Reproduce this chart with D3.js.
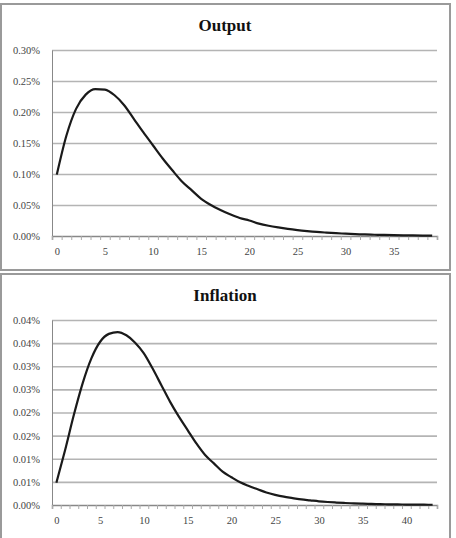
<!DOCTYPE html>
<html><head><meta charset="utf-8">
<script src="https://cdn.jsdelivr.net/npm/d3@7"></script>
<style>
html,body{margin:0;padding:0;background:#fff;}
svg{display:block;}
</style></head>
<body>
<svg id="chart" width="456" height="538"></svg>
<script>
// ---- Data (values in percent) ----
const outputTitle = "Output";
const outputValues = [0.099,0.162,0.205,0.228,0.237,0.236,0.227,0.211,0.189,0.167,
  0.146,0.125,0.106,0.088,0.074,0.060,0.050,0.042,0.035,0.029,
  0.025,0.020,0.0165,0.0138,0.0115,0.0096,0.008,0.0066,0.0055,0.0045,
  0.0037,0.003,0.0025,0.002,0.0017,0.0014,0.0011,0.0009,0.0007,0.0006];
const outputYTicks = [0,0.05,0.10,0.15,0.20,0.25,0.30];
const outputYLabels = ["0.00%","0.05%","0.10%","0.15%","0.20%","0.25%","0.30%"];

const inflationTitle = "Inflation";
const inflationValues = [0.0048,0.0119,0.0195,0.0263,0.0317,0.0353,0.0370,0.0374,0.0367,0.0351,
  0.0328,0.0295,0.0259,0.0223,0.0191,0.0162,0.0133,0.0108,0.0090,0.0072,
  0.0060,0.0049,0.0041,0.0034,0.0027,0.0022,0.0018,0.0015,0.0012,0.0010,
  0.0008,0.00065,0.00053,0.00043,0.00035,0.00028,0.00023,0.00019,0.00015,0.00012,
  0.0001,0.00008,0.00006,0.00005];
const inflationYTicks = [0,0.005,0.010,0.015,0.020,0.025,0.030,0.035,0.040];
const inflationYLabels = ["0.00%","0.01%","0.01%","0.02%","0.02%","0.03%","0.03%","0.04%","0.04%"];

const xLabelStep = 5;

const svg = d3.select("#chart");
const font = "Liberation Serif, Times New Roman, serif";

function panel(cfg) {
  const g = svg.append("g");
  // frame
  g.append("rect")
    .attr("x", cfg.frame[0]).attr("y", cfg.frame[1])
    .attr("width", cfg.frame[2]).attr("height", cfg.frame[3])
    .attr("fill", "#fff").attr("stroke", "#9a9a9a").attr("stroke-width", 2);

  const n = cfg.values.length;
  const x0 = 52, x1 = 437;
  const xEdge = d3.scaleLinear().domain([0, n]).range([x0, x1]);
  const xPt = d3.scalePoint().domain(d3.range(n)).range([x0, x1]).padding(0.5);
  const y = d3.scaleLinear().domain([0, d3.max(cfg.yTicks)]).range([cfg.yBottom, cfg.yTop]);

  // title
  g.append("text").attr("x", 225).attr("y", cfg.titleY)
    .attr("text-anchor", "middle").style("font-family", font)
    .attr("font-weight", "bold").attr("font-size", 17).attr("fill", "#111")
    .text(cfg.title);

  // gridlines
  const grid = g.append("g").attr("transform", `translate(${x0},0)`)
    .call(d3.axisLeft(y).tickValues(cfg.yTicks.slice(1)).tickSize(-(x1 - x0)).tickFormat(""));
  grid.select(".domain").remove();
  grid.selectAll("line").attr("stroke", "#b4b4b4").attr("stroke-width", 1.6);

  // y labels
  const yl = g.append("g").attr("transform", `translate(${x0},0)`)
    .call(d3.axisLeft(y).tickValues(cfg.yTicks).tickSize(0).tickPadding(12)
      .tickFormat((d, i) => cfg.yLabels[i]));
  yl.select(".domain").attr("stroke", "#888").attr("stroke-width", 1);
  yl.selectAll("text").style("font-family", font).attr("font-size", 10.5).attr("fill", "#444");

  // x axis tick marks at category boundaries
  const xa = g.append("g").attr("transform", `translate(0,${cfg.yBottom})`)
    .call(d3.axisBottom(xEdge).tickValues(d3.range(n + 1)).tickSize(4).tickFormat(""));
  xa.select(".domain").attr("stroke", "#888").attr("stroke-width", 1.5);
  xa.selectAll("line").attr("stroke", "#aaa");

  // x labels
  const xl = g.append("g").attr("transform", `translate(0,${cfg.yBottom})`)
    .call(d3.axisBottom(xPt).tickValues(d3.range(0, n, xLabelStep)).tickSize(0).tickPadding(12));
  xl.select(".domain").remove();
  xl.selectAll("text").style("font-family", font).attr("font-size", 10.5).attr("fill", "#444");

  // line
  g.append("path").datum(cfg.values)
    .attr("fill", "none").attr("stroke", "#1a1a1a").attr("stroke-width", 2.2)
    .attr("stroke-linejoin", "round")
    .attr("d", d3.line().x((d, i) => xPt(i)).y(d => y(d)).curve(d3.curveMonotoneX));
}

panel({
  frame: [1, 4, 449, 266], title: outputTitle, titleY: 31,
  values: outputValues, yTicks: outputYTicks, yLabels: outputYLabels,
  yTop: 50, yBottom: 236
});
panel({
  frame: [1, 274, 449, 270], title: inflationTitle, titleY: 301,
  values: inflationValues, yTicks: inflationYTicks, yLabels: inflationYLabels,
  yTop: 320, yBottom: 505
});
</script>
</body></html>
